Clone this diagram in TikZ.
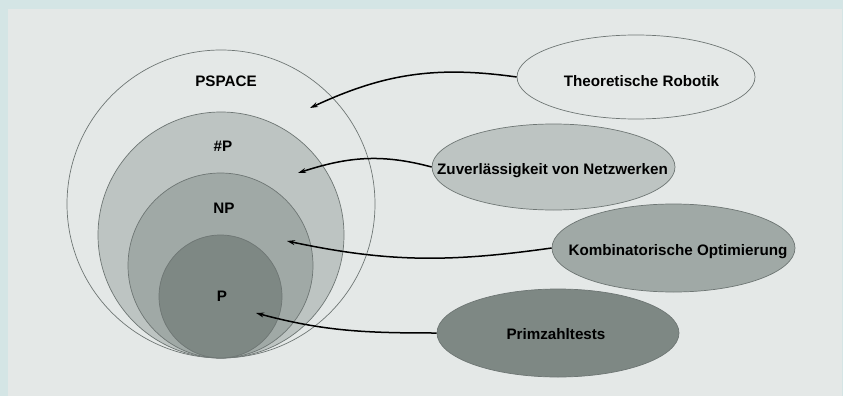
\documentclass[tikz,border=0pt]{standalone}
\usepackage{fontspec}
\setmainfont{Liberation Sans}
\usetikzlibrary{arrows.meta,shapes.geometric}
\definecolor{outerbg}{HTML}{D4E5E5}
\definecolor{panel}{HTML}{E4E8E7}
\definecolor{fillA}{HTML}{BDC4C2}
\definecolor{fillB}{HTML}{A0A9A6}
\definecolor{fillC}{HTML}{7E8884}
\definecolor{edgec}{HTML}{6E7674}
\begin{document}
\begin{tikzpicture}[x=1pt,y=-1pt,
  setc/.style={circle,draw=edgec,line width=0.7pt,inner sep=0pt},
  lbl/.style={font=\fontsize{15.2}{18}\selectfont\bfseries,inner sep=0pt,anchor=base},
  ell/.style={ellipse,draw=edgec,line width=0.7pt,inner sep=0pt},
  conn/.style={line width=1.5pt,-{Stealth[length=8pt,width=5pt]}}]
\fill[outerbg] (0,0) rectangle (843,396);
\fill[panel] (8,9) rectangle (842,396);
\useasboundingbox (0,0) rectangle (843,396);
% nested classes
\node[setc,fill=panel,minimum size=308pt] (pspace) at (221,204) {};
\node[setc,fill=fillA,minimum size=246pt] (sharpp) at (221,235) {};
\node[setc,fill=fillB,minimum size=185pt] (np) at (220.5,265.5) {};
\node[setc,fill=fillC,minimum size=123pt] (p) at (220.5,296.5) {};
\node[lbl] (lpspace) at (226,86) {PSPACE};
\node[lbl] (lsharpp) at (223,151) {\#P};
\node[lbl] (lnp) at (224,213) {NP};
\node[lbl] (lp) at (222,301) {P};
% problems
\node[ell,fill=panel,minimum width=238pt,minimum height=84pt] (robot) at (636,77) {};
\node[ell,fill=fillA,minimum width=243pt,minimum height=86pt] (netz) at (553.5,167) {};
\node[ell,fill=fillB,minimum width=243pt,minimum height=88pt] (kombi) at (673.5,248) {};
\node[ell,fill=fillC,minimum width=242pt,minimum height=88pt] (prim) at (558,333) {};
\node[lbl] (lrobot) at (641.5,86) {Theoretische Robotik};
\node[lbl] (lnetz) at (552.5,174) {Zuverlässigkeit von Netzwerken};
\node[lbl] (lkombi) at (678,255) {Kombinatorische Optimierung};
\node[lbl] (lprim) at (556,339) {Primzahltests};
% targets
\coordinate (tpspace) at (310,108);
\coordinate (tsharpp) at (298,173);
\coordinate (tnp) at (287,241);
\coordinate (tp) at (256,313);
\draw[conn] (robot.west) to[out=172,in=25] (tpspace);
\draw[conn] (netz.west) to[out=165,in=18] (tsharpp);
\draw[conn] (kombi.west) to[out=188,in=-12] (tnp);
\draw[conn] (prim.west) to[out=180,in=-15] (tp);
\end{tikzpicture}
\end{document}
